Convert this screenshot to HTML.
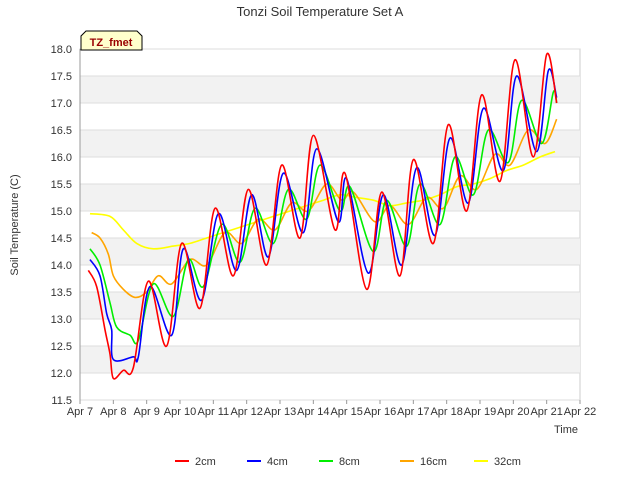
<!DOCTYPE html>
<html><head><meta charset="utf-8"><style>
body{margin:0;background:#fff;font-family:"Liberation Sans",sans-serif}
</style></head><body>
<svg id="c" width="640" height="480" xmlns="http://www.w3.org/2000/svg" font-family="Liberation Sans, sans-serif"></svg>
<script>
const xTickLabels=["Apr 7","Apr 8","Apr 9","Apr 10","Apr 11","Apr 12","Apr 13","Apr 14","Apr 15","Apr 16","Apr 17","Apr 18","Apr 19","Apr 20","Apr 21","Apr 22"];
const yTicks=[11.5,12,12.5,13,13.5,14,14.5,15,15.5,16,16.5,17,17.5,18];
const seriesNames=["2cm","4cm","8cm","16cm","32cm"];
const seriesColors=["#ff0000","#0000ff","#00ee00","#ffa500","#ffff00"];
const t2=[7.25,7.5,7.75,7.9,8.0,8.3,8.6,9.05,9.6,10.05,10.6,11.05,11.6,12.05,12.6,13.05,13.6,14.0,14.65,14.95,15.6,16.05,16.6,17.0,17.6,18.05,18.6,19.05,19.6,20.05,20.6,21.0,21.3];
const v2=[13.9,13.6,12.8,12.35,11.9,12.05,12.1,13.7,12.5,14.4,13.2,15.05,13.8,15.4,14.0,15.85,14.5,16.4,14.65,15.7,13.55,15.35,13.8,15.95,14.4,16.6,15.0,17.15,15.55,17.8,16.0,17.9,17.0];
const t4=[7.3,7.6,7.8,7.95,8.0,8.6,8.75,9.1,9.75,10.1,10.65,11.15,11.7,12.15,12.65,13.1,13.7,14.1,14.75,15.0,15.65,16.1,16.65,17.1,17.65,18.1,18.65,19.1,19.7,20.1,20.7,21.05,21.3];
const v4=[14.1,13.8,13.1,12.8,12.25,12.3,12.3,13.6,12.7,14.3,13.35,14.95,13.9,15.3,14.15,15.7,14.6,16.15,14.8,15.6,13.85,15.3,14.0,15.8,14.55,16.35,15.15,16.9,15.75,17.5,16.1,17.6,17.1];
const t8=[7.3,7.6,7.9,8.1,8.5,8.75,9.2,9.8,10.25,10.7,11.25,11.8,12.25,12.8,13.25,13.8,14.2,14.8,15.1,15.8,16.2,16.8,17.2,17.8,18.25,18.8,19.25,19.85,20.25,20.85,21.2,21.3];
const v8=[14.3,14.0,13.3,12.85,12.7,12.6,13.65,13.05,14.1,13.6,14.75,14.05,15.05,14.4,15.4,14.85,15.85,15.0,15.45,14.25,15.2,14.35,15.5,14.75,16.0,15.3,16.5,15.9,17.05,16.25,17.2,17.0];
const t16=[7.35,7.6,7.85,8.0,8.3,8.65,9.0,9.35,9.75,10.3,10.8,11.35,11.85,12.35,12.85,13.35,13.85,14.4,14.85,15.2,15.85,16.3,16.85,17.4,17.9,18.4,18.9,19.45,19.9,20.45,20.95,21.3];
const v16=[14.6,14.5,14.2,13.8,13.55,13.4,13.5,13.8,13.65,14.1,14.0,14.6,14.4,14.85,14.65,15.15,15.0,15.5,15.2,15.35,14.8,15.1,14.75,15.25,15.05,15.65,15.4,16.05,15.85,16.5,16.25,16.7];
const t32=[7.3,7.9,8.3,8.7,9.2,9.8,10.3,10.8,11.3,11.8,12.3,12.8,13.3,13.8,14.3,14.8,15.3,15.8,16.3,16.8,17.3,17.8,18.3,18.8,19.3,19.8,20.3,20.8,21.25];
const v32=[14.95,14.9,14.65,14.4,14.3,14.35,14.4,14.5,14.6,14.7,14.8,14.9,15.0,15.1,15.2,15.3,15.25,15.2,15.1,15.15,15.2,15.3,15.45,15.5,15.6,15.75,15.85,16.0,16.1];
const seriesT=[t2,t4,t8,t16,t32], seriesV=[v2,v4,v8,v16,v32];

const L=80,R=580,T=49,B=400;
const x=d=>L+(d-7)*(R-L)/15;
const y=v=>B-(v-11.5)*(B-T)/6.5;
const svg=document.getElementById('c');const NS="http://www.w3.org/2000/svg";
function mk(tag,attrs,parent){const e=document.createElementNS(NS,tag);for(const k in attrs)e.setAttribute(k,attrs[k]);(parent||svg).appendChild(e);return e;}
const plot=mk('g',{});


mk('rect',{x:L,y:T,width:R-L,height:B-T,fill:'#fff',stroke:'#ccc'},plot);
for(let i=0;i<yTicks.length-1;i++){
  if(i%2===1){const b=mk('rect',{x:L,y:y(yTicks[i+1]),width:R-L,height:y(yTicks[i])-y(yTicks[i+1]),fill:'#f2f2f2'},plot);
  
  }
}
yTicks.forEach(v=>{
  mk('line',{x1:L,x2:R,y1:y(v),y2:y(v),stroke:'#ddd'},plot);
  const t=mk('text',{x:L-8,y:y(v)+4,'text-anchor':'end','font-size':11,fill:'#333'});t.textContent=v.toFixed(1);
  
  
});
xTickLabels.forEach((s,i)=>{
  mk('line',{x1:x(7+i),x2:x(7+i),y1:B,y2:B+4,stroke:'#999'});
  const t=mk('text',{x:x(7+i),y:B+15,'text-anchor':'middle','font-size':11,fill:'#333'});t.textContent=s;
  
  
});
mk('line',{x1:L,x2:L,y1:T,y2:B,stroke:'#999'});
function path(ts,vs){const p=ts.map((t,i)=>[x(t),y(vs[i])]);let d=`M${p[0][0]},${p[0][1]}`;
  for(let i=0;i<p.length-1;i++){const p0=p[i-1]||p[i],p1=p[i],p2=p[i+1],p3=p[i+2]||p2;
    const c1=[p1[0]+(p2[0]-p0[0])/6,p1[1]+(p2[1]-p0[1])/6],c2=[p2[0]-(p3[0]-p1[0])/6,p2[1]-(p3[1]-p1[1])/6];
    d+=`C${c1[0]},${c1[1]} ${c2[0]},${c2[1]} ${p2[0]},${p2[1]}`;}return d;}
for(let s=4;s>=0;s--){
  const e=mk('path',{d:path(seriesT[s],seriesV[s]),fill:'none',stroke:seriesColors[s],'stroke-width':1.6});
  
  
}
const title=mk('text',{x:320,y:16,'text-anchor':'middle','font-size':13,fill:'#333'});title.textContent='Tonzi Soil Temperature Set A';


const xt=mk('text',{x:578,y:433,'text-anchor':'end','font-size':11,fill:'#333'});xt.textContent='Time';


const yt=mk('text',{x:18,y:225,'text-anchor':'middle','font-size':11,fill:'#333',transform:'rotate(-90 18 225)'});yt.textContent='Soil Temperature (C)';


const lb=mk('g',{});


mk('path',{d:'M81,50 L81,36 L86,31 L137,31 L142,36 L142,50 Z',fill:'#ffffcc',stroke:'#000'},lb);
const lt=mk('text',{x:111,y:46,'text-anchor':'middle','font-size':11,'font-weight':'bold',fill:'#990000'},lb);lt.textContent='TZ_fmet';
const lx=[175,247,319,400,474];
seriesNames.forEach((n,i)=>{
  const g=mk('g',{});
  
  
  mk('line',{x1:lx[i],x2:lx[i]+14,y1:461,y2:461,stroke:seriesColors[i],'stroke-width':2},g);
  const t=mk('text',{x:lx[i]+20,y:465,'font-size':11,fill:'#333'},g);t.textContent=n;
});
</script>
</body></html>
